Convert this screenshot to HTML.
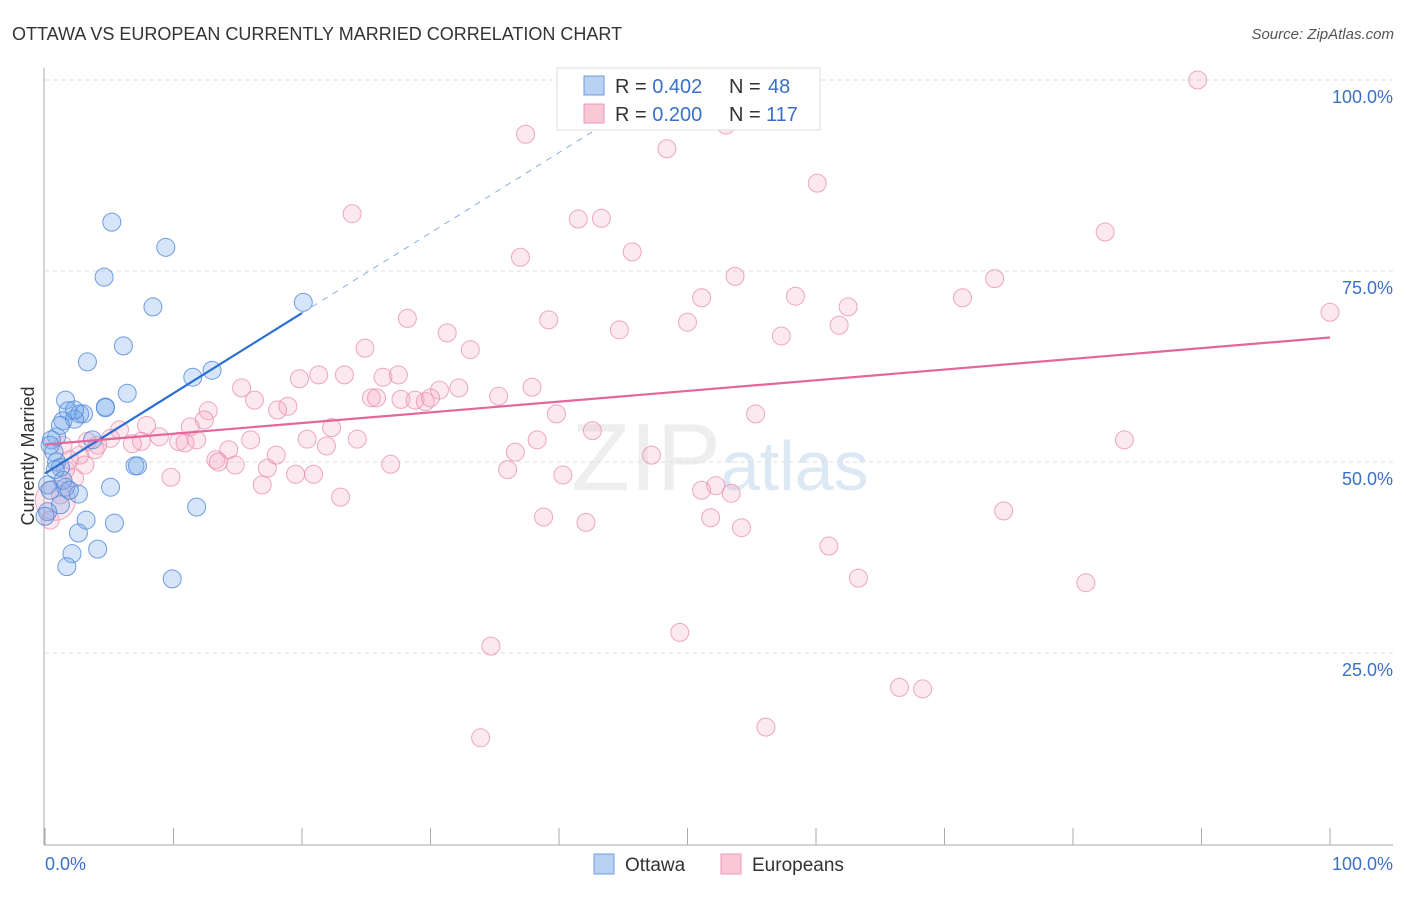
<!DOCTYPE html>
<html><head><meta charset="utf-8"><style>
body{margin:0;background:#fff;font-family:"Liberation Sans",sans-serif}
svg text{font-family:"Liberation Sans",sans-serif}
</style></head><body>
<svg width="1406" height="892" id="c">
<text x="12" y="40" font-size="18" fill="#333">OTTAWA VS EUROPEAN CURRENTLY MARRIED CORRELATION CHART</text>
<text x="1394" y="39" font-size="15" fill="#555" font-style="italic" text-anchor="end">Source: ZipAtlas.com</text>
<text x="720" y="490" font-size="96" fill="#eeeeee" text-anchor="middle" font-family="Liberation Serif">ZIP<tspan fill="#dde8f5" font-family="Liberation Sans" font-size="70">atlas</tspan></text>
<text transform="translate(34,456) rotate(-90)" font-size="18" fill="#333" text-anchor="middle">Currently Married</text>
<g id="grid"></g><g id="pts"></g><g id="lines"></g>
<g>
<rect x="557" y="68" width="263" height="62" fill="#fff" stroke="#ddd"/>
<rect x="584" y="76" width="20" height="19" fill="#b9d2f4" stroke="#6a9be0"/>
<rect x="584" y="104" width="20" height="19" fill="#f9c7d6" stroke="#ea9ab5"/>
<text x="615" y="93" font-size="20" fill="#333">R = <tspan fill="#3a70c8">0.402</tspan><tspan x="729">N = </tspan><tspan fill="#3a70c8" x="768">48</tspan></text>
<text x="615" y="121" font-size="20" fill="#333">R = <tspan fill="#3a70c8">0.200</tspan><tspan x="729">N = </tspan><tspan fill="#3a70c8" x="766">117</tspan></text>
</g>
<g>
<rect x="594" y="854" width="20" height="20" fill="#b9d2f4" stroke="#6a9be0"/>
<text x="625" y="871" font-size="19" fill="#333">Ottawa</text>
<rect x="721" y="854" width="20" height="20" fill="#f9c7d6" stroke="#ea9ab5"/>
<text x="752" y="871" font-size="19" fill="#333">Europeans</text>
</g>
<text x="45" y="870" font-size="18" fill="#3a70c8">0.0%</text>
<text x="1393" y="870" font-size="18" fill="#3a70c8" text-anchor="end">100.0%</text>
</svg>
<script>
const yTicks=[100,75,50,25];
const yTickLabels=["100.0%","75.0%","50.0%","25.0%"];
const xTicks=[0,10,20,30,40,50,60,70,80,90,100];
const ottawaX=[5.2,9.4,4.6,8.4,20.1,6.1,3.3,13.0,11.5,6.4,1.6,1.8,2.7,3.0,4.7,2.3,1.4,0.9,0.5,0.7,0.9,1.2,7.0,7.2,5.1,0.2,1.6,2.6,1.2,0.2,0.0,3.2,11.8,5.4,2.6,2.1,4.1,1.7,9.9,1.4,1.9,0.8,0.4,3.7,2.3,1.2,0.4,4.7];
const ottawaY=[81.4,78.1,74.2,70.3,70.9,65.2,63.1,62.0,61.1,59.0,58.1,56.7,56.3,56.3,57.2,55.6,55.4,53.3,52.9,51.3,50.0,49.3,49.5,49.5,46.7,47.0,46.7,45.8,44.4,43.5,42.9,42.4,44.1,42.0,40.7,38.0,38.6,36.3,34.7,47.6,46.3,49.0,52.2,52.9,56.8,54.8,46.3,57.1];
const euroX=[89.7,48.5,53.0,37.4,48.4,60.1,23.9,41.5,43.3,82.5,45.7,37.0,53.7,73.9,51.1,58.4,71.4,62.5,100,28.2,39.2,50.0,61.8,44.7,31.3,57.3,24.9,33.1,19.8,21.3,23.3,26.3,27.5,15.3,37.9,32.2,30.7,35.3,25.4,25.8,27.7,28.8,29.6,30.0,16.3,18.9,12.7,18.1,39.8,55.3,22.3,11.3,12.4,7.9,5.8,8.9,10.4,10.9,11.8,7.5,6.8,5.1,4.1,3.3,20.4,24.3,16.0,42.6,38.3,21.9,36.6,14.3,13.3,13.5,14.8,18.0,26.9,17.3,47.2,36.0,19.5,20.9,9.8,40.3,16.9,23.0,51.1,52.2,53.4,84.0,38.8,42.1,51.8,54.2,74.6,61.0,63.3,81.0,49.4,34.7,66.5,68.3,33.9,56.1,1.6,2.3,1.2,0.4,0.8,1.9,2.7,3.9,1.4,3.1];
const euroY=[100,100,94.1,92.9,91.0,86.5,82.5,81.8,81.9,80.1,77.5,76.8,74.3,74.0,71.5,71.7,71.5,70.3,69.6,68.8,68.6,68.3,67.9,67.3,66.9,66.5,64.9,64.7,60.9,61.4,61.4,61.1,61.4,59.7,59.8,59.7,59.4,58.6,58.4,58.4,58.2,58.1,57.9,58.4,58.1,57.3,56.7,56.8,56.3,56.3,54.5,54.6,55.5,54.8,54.2,53.3,52.7,52.5,52.9,52.7,52.4,53.1,52.2,52.7,53.0,53.0,52.9,54.1,52.9,52.1,51.3,51.6,50.3,50.0,49.6,50.9,49.7,49.2,50.9,49.0,48.4,48.4,48.0,48.3,47.0,45.4,46.3,46.9,45.9,52.9,42.8,42.1,42.7,41.4,43.6,39.0,34.8,34.2,27.7,25.9,20.5,20.3,13.9,15.3,49.0,47.9,45.7,42.4,45.0,50.3,50.9,51.6,52.2,49.6];
const ottawaTrend=[0,48.5,20,69.5];
const euroTrend=[0,52.3,100,66.3];
const NS='http://www.w3.org/2000/svg';
const sx=v=>45+v*12.85, sy=v=>844-v*7.64;
function mk(t,a,p){const e=document.createElementNS(NS,t);for(const k in a)e.setAttribute(k,a[k]);document.getElementById(p).appendChild(e);return e;}
yTicks.forEach((v,i)=>{
 const l=mk('line',{x1:45,x2:1393,y1:sy(v),y2:sy(v),stroke:'#ddd','stroke-dasharray':'4,4'},'grid');
 
 
 const t=mk('text',{x:1393,y:sy(v)+23,'font-size':18,fill:'#3a70c8','text-anchor':'end'},'grid');
 t.textContent=yTickLabels[i];
 
 
});
mk('line',{x1:44,x2:44,y1:68,y2:845,stroke:'#aaa'},'grid');
mk('line',{x1:44,x2:1393,y1:845,y2:845,stroke:'#aaa'},'grid');
xTicks.forEach(v=>{const l=mk('line',{x1:sx(v),x2:sx(v),y1:828,y2:845,stroke:'#aaa'},'grid');
 
 });
euroX.forEach((x,i)=>{const c=mk('circle',{cx:sx(x),cy:sy(euroY[i]),r:(i==108?20:9),fill:'rgba(244,165,192,0.25)',stroke:'rgba(232,140,172,0.75)','stroke-width':1},'pts');
 
 });
ottawaX.forEach((x,i)=>{const c=mk('circle',{cx:sx(x),cy:sy(ottawaY[i]),r:9,fill:'rgba(120,170,235,0.3)',stroke:'rgba(80,135,215,0.8)','stroke-width':1},'pts');
 
 });
const slope=(ottawaTrend[3]-ottawaTrend[1])/(ottawaTrend[2]-ottawaTrend[0]);
const d=mk('line',{x1:sx(ottawaTrend[2]),y1:sy(ottawaTrend[3]),x2:sx(45),y2:sy(ottawaTrend[1]+slope*45),stroke:'#8ab0e0','stroke-dasharray':'6,6'},'lines');


const bl=mk('line',{x1:sx(ottawaTrend[0]),y1:sy(ottawaTrend[1]),x2:sx(ottawaTrend[2]),y2:sy(ottawaTrend[3]),stroke:'#2a6fd0','stroke-width':2.2},'lines');


const pl=mk('line',{x1:sx(euroTrend[0]),y1:sy(euroTrend[1]),x2:sx(euroTrend[2]),y2:sy(euroTrend[3]),stroke:'#e4679a','stroke-width':2.2},'lines');


</script>
</body></html>
